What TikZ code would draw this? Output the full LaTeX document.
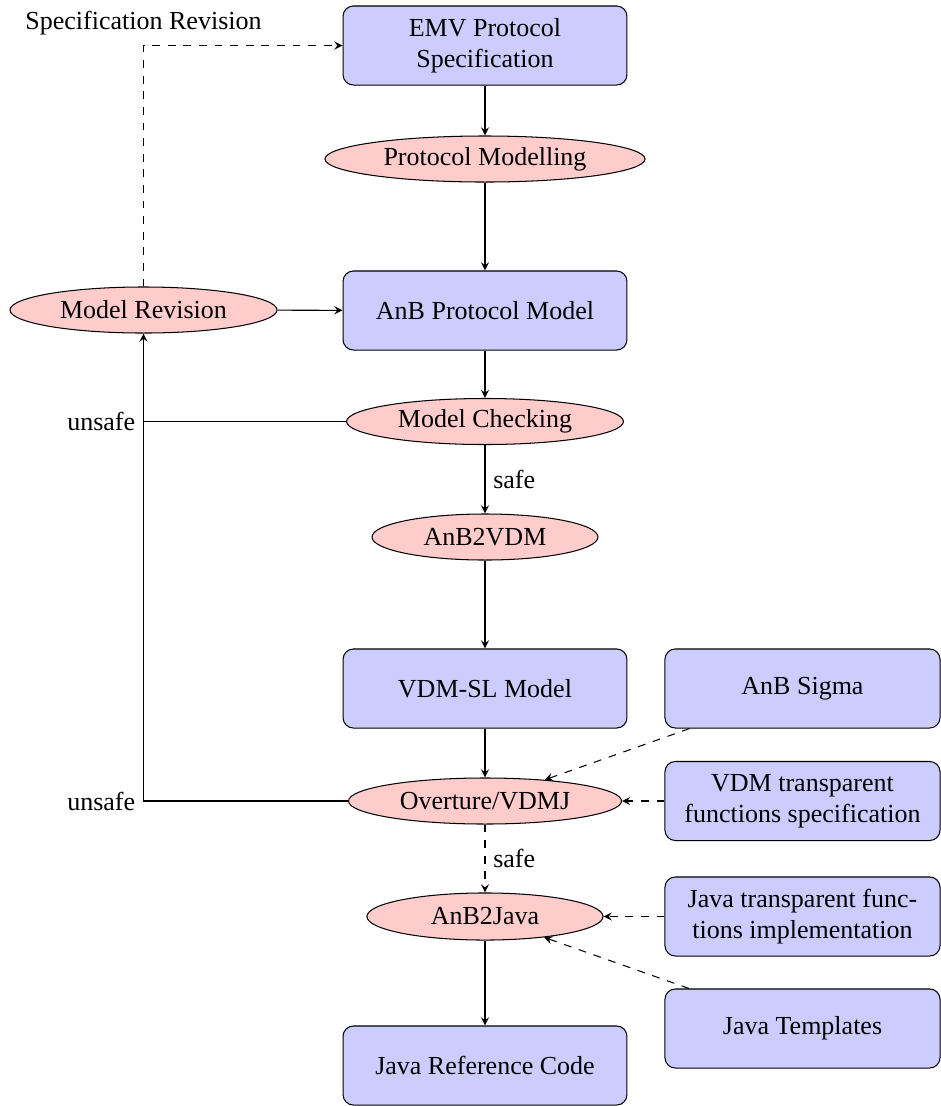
\documentclass[tikz,border=0pt]{standalone}
\usepackage{fontspec}
\setmainfont{LiberationSerif}[Extension=.ttf, UprightFont=*-Regular, BoldFont=*-Bold, ItalicFont=*-Italic]
\usetikzlibrary{shapes.geometric}

\tikzset{
  doc/.style={draw, rounded corners=4pt, fill=blue!20, align=center,
    inner sep=0pt, minimum width=109.2pt, minimum height=30.4pt},
  sidedoc/.style={doc, minimum width=105.8pt},
  proc/.style={draw, ellipse, fill=red!20, inner sep=0pt, minimum height=17.7pt},
  flow/.style={->, >=stealth},
  aux/.style={->, >=stealth, dashed},
  tag/.style={inner sep=3pt}
}

\begin{document}
\begin{tikzpicture}[x=0.3846pt, y=-0.3846pt]
  \useasboundingbox (0,0) rectangle (941,1106);

  % main column
  \node[doc]  (emv)    at (485,45.5)  {EMV Protocol\\Specification};
  \node[proc, minimum width=123.1pt] (pmod) at (485,159) {Protocol Modelling};
  \node[doc]  (anb)    at (485,310.5) {AnB Protocol Model};
  \node[proc, minimum width=106.5pt] (mcheck) at (485,421.5) {Model Checking};
  \node[proc, minimum width=86.9pt]  (a2v)  at (485,537) {AnB2VDM};
  \node[doc]  (vdmsl)  at (485,688.5) {VDM-SL Model};
  \node[proc, minimum width=105pt]   (ovt)  at (485,801) {Overture/VDMJ};
  \node[proc, minimum width=90.8pt, minimum height=18.1pt] (a2j) at (485,916.5) {AnB2Java};
  \node[doc]  (jref)   at (485,1065.5) {Java Reference Code};

  % revision loop
  \node[proc, minimum width=102.7pt] (mrev) at (143.5,310) {Model Revision};

  % side inputs
  \node[sidedoc] (sigma) at (802.5,688.5) {AnB Sigma};
  \node[sidedoc] (vdmtf) at (802.5,801)   {VDM transparent\\functions specification};
  \node[sidedoc] (javtf) at (802.5,916.5) {Java transparent func-\\tions implementation};
  \node[sidedoc] (jtpl)  at (802.5,1028.5) {Java Templates};

  % main flow
  \draw[flow] (emv) -- (pmod);
  \draw[flow] (pmod) -- (anb);
  \draw[flow] (anb) -- (mcheck);
  \draw[flow] (mcheck) -- node[right, tag] {safe} (a2v);
  \draw[flow] (a2v) -- (vdmsl);
  \draw[flow] (vdmsl) -- (ovt);
  \draw[aux]  (ovt) -- node[right, tag] {safe} (a2j);
  \draw[flow] (a2j) -- (jref);

  % side inputs
  \draw[aux] (sigma) -- (ovt);
  \draw[aux] (vdmtf) -- (ovt);
  \draw[aux] (javtf) -- (a2j);
  \draw[aux] (jtpl) -- (a2j);

  % unsafe feedback
  \coordinate (u1) at (mrev.south |- mcheck.west);
  \coordinate (u2) at (mrev.south |- ovt.west);
  \draw (mcheck.west) -- (u1) node[left, tag] {unsafe};
  \draw[flow] (ovt.west) -- (u2) node[left, tag] {unsafe} -- (mrev.south);
  \draw[flow] (mrev) -- (anb);

  % specification revision
  \coordinate (sr) at (mrev.north |- emv.west);
  \draw[aux] (mrev.north) -- (sr) -- (emv.west);
  \node[tag] (srlabel) at (143.5,23) {Specification Revision};
\end{tikzpicture}
\end{document}
